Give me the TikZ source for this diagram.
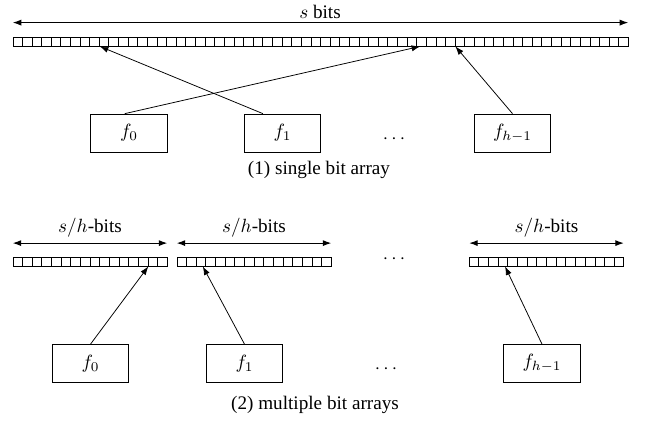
\documentclass[tikz,border=0pt]{standalone}
\usepackage[no-math]{fontspec}
\setmainfont{Liberation Serif}
\usetikzlibrary{calc,arrows.meta}

\tikzset{
    bitarray/.style={draw, inner sep=0pt, minimum height=4.7pt},
    hashbox/.style={draw, inner sep=0pt, minimum width=40pt, minimum height=19.8pt},
    span/.style={{Latex[length=4.5pt,width=3.2pt]}-{Latex[length=4.5pt,width=3.2pt]}, semithick},
    >={Latex[length=4.5pt,width=3.2pt]}
}

% dividers between the cells of an array node
\newcommand{\bitcells}[2]{%
    \foreach \i in {1,...,\numexpr#2-1\relax}{
        \draw ($(#1.south west)!\i/#2!(#1.south east)$) -- ($(#1.north west)!\i/#2!(#1.north east)$);
    }
}

\begin{document}
\begin{tikzpicture}[x=0.522pt, y=-0.522pt]
        \useasboundingbox (0,0) rectangle (646,424);

        % ---- (1) one array for all hash functions ----
        \node[bitarray, minimum width=321pt] (arr) at (320.5,41.5) {};
        \bitcells{arr}{64}
        \draw[span] (arr.north west) ++(0,-14) coordinate (sl) -- (sl -| arr.north east) coordinate (sr);
        \node (slbl) at (320,12) {$s$ bits};

        \node[hashbox] (f0) at (129,133) {$f_0$};
        \node[hashbox] (f1) at (282.5,133) {$f_1$};
        \node (dots) at (394,139) {$\cdots$};
        \node[hashbox] (fh) at (512.5,133) {$f_{h-1}$};

        \draw[->] ($(f0.north west)!0.445!(f0.north east)$) -- ($(arr.south west)!0.662!(arr.south east)$);
        \draw[->] ($(f1.north west)!0.247!(f1.north east)$) -- ($(arr.south west)!0.1415!(arr.south east)$);
        \draw[->] (fh.north) -- ($(arr.south west)!0.719!(arr.south east)$);

        \node (cap1) at (319,170) {(1) single bit array};

        % ---- (2) one array per hash function ----
        \foreach \n/\x in {a/90, b/254, c/546.5}{
            \node[bitarray, minimum width=80.4pt] (arr\n) at (\x,261.5) {};
            \bitcells{arr\n}{16}
            \draw[span] (arr\n.north west) ++(0,-13.5) coordinate (l\n) -- (l\n -| arr\n.north east) coordinate (r\n);
            \node (lbl\n) at (\x,228) {$s/h$-bits};
        }
        \node (dotsa) at (394,259) {$\cdots$};

        \node[hashbox] (g0) at (90.5,363.5) {$f_0$};
        \node[hashbox] (g1) at (244.5,363.5) {$f_1$};
        \node (dotsb) at (386,369) {$\cdots$};
        \node[hashbox] (gh) at (542,363.5) {$f_{h-1}$};

        \draw[->] (g0.north) -- ($(arra.south west)!0.877!(arra.south east)$);
        \draw[->] (g1.north) -- ($(arrb.south west)!0.169!(arrb.south east)$);
        \draw[->] (gh.north) -- ($(arrc.south west)!0.232!(arrc.south east)$);

        \node (cap2) at (315,405) {(2) multiple bit arrays};

    \end{tikzpicture}
\end{document}
